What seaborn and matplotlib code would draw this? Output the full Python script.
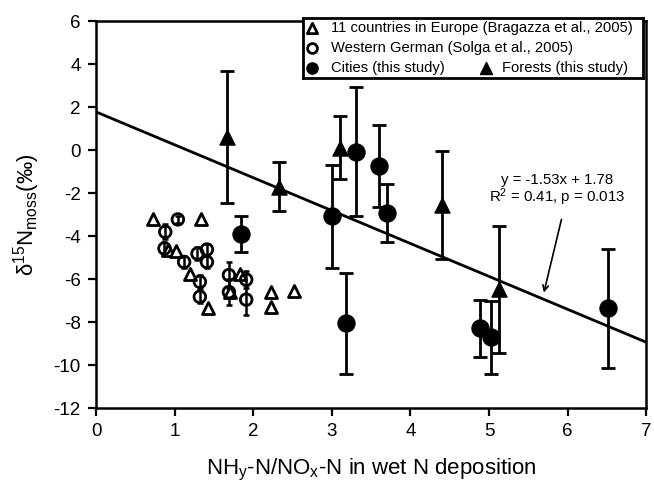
import numpy as np
import seaborn as sns
import matplotlib.pyplot as plt

# cities (this study)
city_x = [1.84, 3.00, 3.31, 3.60, 3.70, 3.18, 4.89, 5.02, 6.52]
city_y = [-3.90, -3.07, -0.08, -0.74, -2.90, -8.06, -8.28, -8.70, -7.36]
city_err = [0.83, 2.40, 3.00, 1.90, 1.35, 2.34, 1.33, 1.70, 2.76]

# forests (this study)
forest_x = [1.66, 2.33, 3.10, 4.40, 5.13]
forest_y = [0.63, -1.70, 0.12, -2.55, -6.47]
forest_err = [3.07, 1.15, 1.45, 2.50, 2.95]

# Western German (Solga et al., 2005)
solga_x = [0.88, 1.04, 0.87, 1.12, 1.29, 1.41, 1.41, 1.32, 1.32, 1.69, 1.69, 1.91, 1.91]
solga_y = [-3.80, -3.22, -4.57, -5.20, -4.81, -4.62, -5.20, -6.12, -6.82, -5.81, -6.60, -6.02, -6.95]
solga_err = [0.35, 0.15, 0.30, 0.30, 0.30, 0.25, 0.30, 0.30, 0.30, 0.60, 0.60, 0.40, 0.70]

# 11 countries in Europe (Bragazza et al., 2005)
brag_x = [0.73, 1.34, 0.91, 1.02, 1.20, 1.43, 1.83, 1.71, 2.23, 2.23, 2.52]
brag_y = [-3.18, -3.22, -4.65, -4.70, -5.78, -7.36, -5.74, -6.60, -6.60, -7.30, -6.55]

slope, intercept = -1.53, 1.78
line_x = [0, 7]

sns.set_style('ticks')
plt.rcParams['font.family'] = ['Liberation Sans', 'DejaVu Sans']
plt.rcParams['mathtext.fontset'] = 'custom'
plt.rcParams['mathtext.rm'] = 'Liberation Sans'
plt.rcParams['mathtext.it'] = 'Liberation Sans:italic'
plt.rcParams['axes.unicode_minus'] = False
plt.rcParams['text.color'] = 'black'
plt.rcParams['axes.labelcolor'] = 'black'
plt.rcParams['xtick.color'] = 'black'
plt.rcParams['ytick.color'] = 'black'
plt.rcParams['axes.edgecolor'] = 'black'

fig = plt.figure(figsize=(6.54, 4.93), dpi=100)
ax = fig.add_axes([0.147, 0.172, 0.841, 0.785])

ax.plot(line_x, [slope * v + intercept for v in line_x], color='black', lw=2, zorder=1)

ax.errorbar(solga_x, solga_y, yerr=solga_err, fmt='none', ecolor='black', elinewidth=1.8,
            capsize=2.5, capthick=1.8, zorder=2)
ax.errorbar(city_x, city_y, yerr=city_err, fmt='none', ecolor='black', elinewidth=2,
            capsize=5, capthick=2, zorder=2)
ax.errorbar(forest_x, forest_y, yerr=forest_err, fmt='none', ecolor='black', elinewidth=2,
            capsize=5, capthick=2, zorder=2)

sns.scatterplot(x=brag_x, y=brag_y, marker='^', s=75, facecolor='white', edgecolor='black',
                linewidth=2, ax=ax, zorder=3)
sns.scatterplot(x=solga_x, y=solga_y, marker='o', s=70, facecolor='none', edgecolor='black',
                linewidth=2, ax=ax, zorder=3)
sns.scatterplot(x=city_x, y=city_y, marker='o', s=150, color='black', edgecolor='black', ax=ax, zorder=4)
sns.scatterplot(x=forest_x, y=forest_y, marker='^', s=120, color='black', edgecolor='black', ax=ax, zorder=4)

ax.set_xlim(0, 7)
ax.set_ylim(-12, 6)
ax.set_xticks(range(0, 8))
ax.set_yticks(range(-12, 7, 2))
ax.tick_params(direction='out', length=6, width=1.6, labelsize=13.5, pad=5)
for sp in ax.spines.values():
    sp.set_linewidth(1.8)
    sp.set_visible(True)

ax.set_xlabel(r'NH$_\mathregular{y}$-N/NO$_\mathregular{x}$-N in wet N deposition', fontsize=16, labelpad=12)
ax.set_ylabel(r'δ$^\mathregular{15}$N$_\mathregular{moss}$(‰)', fontsize=16, labelpad=8)

ax.text(5.86, -1.4, 'y = -1.53x + 1.78', ha='center', va='center', fontsize=10.8)
ax.text(5.86, -2.2, r'R$^\mathregular{2}$ = 0.41, p = 0.013', ha='center', va='center', fontsize=10.8)
ax.annotate('', xy=(5.69, -6.75), xytext=(5.93, -3.1),
            arrowprops=dict(arrowstyle='->', color='black', lw=1.2))

# legend box
leg = fig.add_axes([0.463, 0.842, 0.52, 0.121])
leg.set_xlim(0, 1)
leg.set_ylim(0, 3)
leg.set_xticks([])
leg.set_yticks([])
for sp in leg.spines.values():
    sp.set_linewidth(2)
leg_fs = 10.6
leg.scatter([0.027], [2.5], marker='^', s=55, facecolor='white', edgecolor='black', linewidth=2)
leg.text(0.083, 2.5, '11 countries in Europe (Bragazza et al., 2005)', va='center', fontsize=leg_fs)
leg.scatter([0.027], [1.5], marker='o', s=50, facecolor='white', edgecolor='black', linewidth=2)
leg.text(0.083, 1.5, 'Western German (Solga et al., 2005)', va='center', fontsize=leg_fs)
leg.scatter([0.027], [0.5], marker='o', s=65, color='black')
leg.text(0.083, 0.5, 'Cities (this study)', va='center', fontsize=leg_fs)
leg.scatter([0.54], [0.5], marker='^', s=75, color='black')
leg.text(0.585, 0.5, 'Forests (this study)', va='center', fontsize=leg_fs)

fig.savefig('out.png', dpi=100)
